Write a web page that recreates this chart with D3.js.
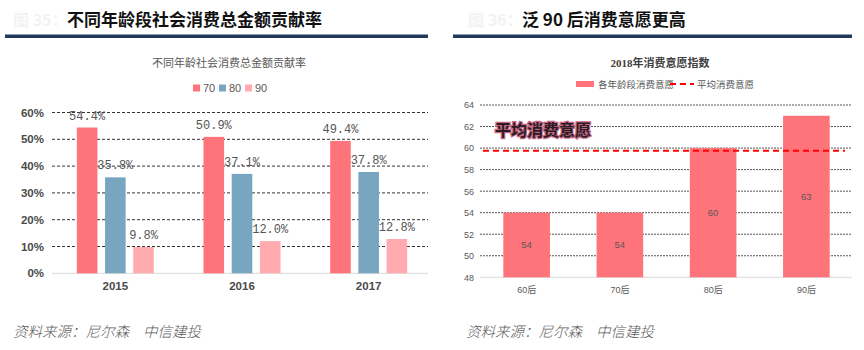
<!DOCTYPE html>
<html><head><meta charset="utf-8">
<script src="https://cdn.jsdelivr.net/npm/d3@7"></script>
<style>
body{margin:0;background:#fff;}
svg{display:block;}
</style></head>
<body><svg id="c" width="864" height="350"></svg>
<script>
// ---- data ----
const years = ["2015", "2016", "2017"];
const seriesNames = ["70", "80", "90"];
const share70 = [54.4, 50.9, 49.4];
const share80 = [35.8, 37.1, 37.8];
const share90 = [9.8, 12.0, 12.8];
const leftTicks = [0, 10, 20, 30, 40, 50, 60];

const ageGroups = ["60后", "70后", "80后", "90后"];
const willingness = [54, 54, 60, 63];
const avgWillingness = 59.75;
const rightTicks = [48, 50, 52, 54, 56, 58, 60, 62, 64];

const svg = d3.select("#c");
const cjk = "'Noto Sans CJK SC', sans-serif";
const serif = "'Liberation Serif','DejaVu Serif', 'Noto Sans CJK SC', serif";
const colors = ["#ff737a", "#78a5c0", "#ffabb0"];

// ---- headers ----
function header(x0, x1, tx, title, fig) {
  svg.append("text").attr("x", tx - 54).attr("y", 26).attr("font-family", cjk)
    .attr("font-size", 16).attr("font-weight", "bold").attr("fill", "#f3f3f3").text(fig);
  svg.append("text").attr("x", tx).attr("y", 26).attr("font-family", cjk)
    .attr("font-size", 17).attr("font-weight", "bold").attr("fill", "#111").text(title);
  svg.append("rect").attr("x", x0).attr("y", 34.5).attr("width", x1 - x0).attr("height", 3.5).attr("fill", "#1f3a5c");
}
header(5, 428, 67, "不同年龄段社会消费总金额贡献率", "图 35：");
header(453, 852, 522, "泛 90 后消费意愿更高", "图 36：");

// ---- source lines ----
[13, 466].forEach(x => {
  const t = svg.append("text").attr("x", x).attr("y", 337).attr("font-family", cjk)
    .attr("font-size", 14.5).attr("font-style", "italic").attr("font-weight", 300).attr("fill", "#5a5a5a");
  t.append("tspan").text("资料来源：尼尔森");
  t.append("tspan").attr("dx", 14).text("中信建投");
});

// ================= LEFT CHART =================
const L = {x0: 52, x1: 432, gx1: 428, y0: 273.3, y1: 112.5};
const ly = d3.scaleLinear().domain([0, 60]).range([L.y0, L.y1]);
const lx = d3.scaleBand().domain(years).range([L.x0, L.x1]).paddingInner(0).paddingOuter(0);
const lxs = d3.scaleBand().domain(seriesNames).range([0, 77]).paddingInner(0.27);
const groupOff = (lx.bandwidth() - 77) / 2;

svg.append("text").attr("x", 229).attr("y", 67).attr("text-anchor", "middle")
  .attr("font-family", serif).attr("font-size", 11).attr("fill", "#595959")
  .text("不同年龄社会消费总金额贡献率");

// legend
const lg = svg.append("g");
seriesNames.forEach((s, i) => {
  const gx = 193 + i * 26;
  lg.append("rect").attr("x", gx).attr("y", 84.5).attr("width", 7).attr("height", 7).attr("fill", colors[i]);
  lg.append("text").attr("x", gx + 10).attr("y", 91.5).attr("font-family", "'Liberation Sans', Arial, sans-serif")
    .attr("font-size", 11).attr("fill", "#595959").text(s);
});

// grid
const lgrid = svg.append("g");
leftTicks.forEach(t => {
  if (t === 0) return;
  lgrid.append("line").attr("x1", L.x0).attr("x2", L.gx1).attr("y1", ly(t)).attr("y2", ly(t))
    .attr("stroke", "#333").attr("stroke-width", 1).attr("stroke-dasharray", "3,2");
});
svg.append("line").attr("x1", L.x0).attr("x2", L.gx1).attr("y1", ly(0)).attr("y2", ly(0))
  .attr("stroke", "#d9d9d9").attr("stroke-width", 1);

// y axis
const lyAxis = d3.axisLeft(ly).tickValues(leftTicks).tickFormat(d => d + "%").tickSize(0).tickPadding(8);
const lya = svg.append("g").attr("transform", `translate(${L.x0},0)`).call(lyAxis);
lya.select(".domain").remove();
lya.selectAll("text").attr("font-family", "'Liberation Sans', Arial, sans-serif").attr("font-size", 11.5)
  .attr("font-weight", "bold").attr("fill", "#4a4a4a");

// x axis
const lxAxis = d3.axisBottom(lx).tickSize(0).tickPadding(9);
const lxa = svg.append("g").attr("transform", `translate(0,${L.y0})`).call(lxAxis);
lxa.select(".domain").remove();
lxa.selectAll("text").attr("font-family", "'Liberation Sans', Arial, sans-serif").attr("font-size", 11.5)
  .attr("font-weight", "bold").attr("fill", "#4a4a4a");

// bars
const series = [share70, share80, share90];
years.forEach((yr, i) => {
  series.forEach((arr, k) => {
    const x = lx(yr) + groupOff + lxs(seriesNames[k]);
    const w = lxs.bandwidth();
    svg.append("rect").attr("x", x).attr("y", ly(arr[i])).attr("width", w)
      .attr("height", ly(0) - ly(arr[i])).attr("fill", colors[k]);
    svg.append("text").attr("x", x + w / 2).attr("y", ly(arr[i]) - 8).attr("text-anchor", "middle")
      .attr("font-family", "'Liberation Mono','DejaVu Sans Mono', monospace").attr("font-size", 12)
      .attr("fill", "#555").text(arr[i].toFixed(1) + "%");
  });
});

// ================= RIGHT CHART =================
const R = {x0: 480, x1: 853, gx1: 852, y0: 277.3, y1: 105};
const ry = d3.scaleLinear().domain([48, 64]).range([R.y0, R.y1]);
const rx = d3.scaleBand().domain(ageGroups).range([R.x0, R.x1]).paddingInner(0.5).paddingOuter(0.25);

svg.append("text").attr("x", 660).attr("y", 67).attr("text-anchor", "middle")
  .attr("font-family", serif).attr("font-size", 11).attr("font-weight", "bold").attr("fill", "#404040")
  .text("2018年消费意愿指数");

// legend
svg.append("rect").attr("x", 576).attr("y", 81).attr("width", 18).attr("height", 6).attr("fill", "#ff737a");
svg.append("text").attr("x", 598).attr("y", 88).attr("font-family", serif).attr("font-size", 9.5)
  .attr("fill", "#595959").text("各年龄段消费意愿");
svg.append("line").attr("x1", 670).attr("x2", 694).attr("y1", 84).attr("y2", 84)
  .attr("stroke", "#ff0000").attr("stroke-width", 2).attr("stroke-dasharray", "6,4");
svg.append("text").attr("x", 697).attr("y", 88).attr("font-family", serif).attr("font-size", 9.5)
  .attr("fill", "#595959").text("平均消费意愿");

// grid
rightTicks.forEach(t => {
  if (t === 48) return;
  svg.append("line").attr("x1", R.x0).attr("x2", R.gx1).attr("y1", ry(t)).attr("y2", ry(t))
    .attr("stroke", "#555").attr("stroke-width", 1).attr("stroke-dasharray", "2,1");
});
svg.append("line").attr("x1", R.x0).attr("x2", R.gx1).attr("y1", ry(48)).attr("y2", ry(48))
  .attr("stroke", "#d9d9d9").attr("stroke-width", 1);

const ryAxis = d3.axisLeft(ry).tickValues(rightTicks).tickSize(0).tickPadding(6);
const rya = svg.append("g").attr("transform", `translate(${R.x0},0)`).call(ryAxis);
rya.select(".domain").remove();
rya.selectAll("text").attr("font-family", "'Liberation Sans', Arial, sans-serif").attr("font-size", 9)
  .attr("fill", "#595959");

const rxAxis = d3.axisBottom(rx).tickSize(0).tickPadding(9);
const rxa = svg.append("g").attr("transform", `translate(0,${R.y0})`).call(rxAxis);
rxa.select(".domain").remove();
rxa.selectAll("text").attr("font-family", "'Liberation Sans', Arial, 'Noto Sans CJK SC', sans-serif")
  .attr("font-size", 9).attr("fill", "#595959");

ageGroups.forEach((g, i) => {
  const v = willingness[i];
  svg.append("rect").attr("x", rx(g)).attr("y", ry(v)).attr("width", rx.bandwidth())
    .attr("height", ry(48) - ry(v)).attr("fill", "#ff737a");
  svg.append("text").attr("x", rx(g) + rx.bandwidth() / 2).attr("y", (ry(v) + ry(48)) / 2 + 3.5)
    .attr("text-anchor", "middle").attr("font-family", "'Liberation Sans', Arial, sans-serif")
    .attr("font-size", 9.5).attr("fill", "#595959").text(v);
});

// average line
svg.append("line").attr("x1", 483).attr("x2", 845).attr("y1", ry(avgWillingness)).attr("y2", ry(avgWillingness))
  .attr("stroke", "#ff0000").attr("stroke-width", 2).attr("stroke-dasharray", "6,4");

// annotation
svg.append("text").attr("x", 495).attr("y", 136).attr("font-family", cjk).attr("font-size", 16)
  .attr("font-weight", "bold").attr("fill", "#2a1a22").attr("stroke", "#c86a86").attr("stroke-width", 2.5)
  .attr("paint-order", "stroke").text("平均消费意愿");
</script></body></html>
